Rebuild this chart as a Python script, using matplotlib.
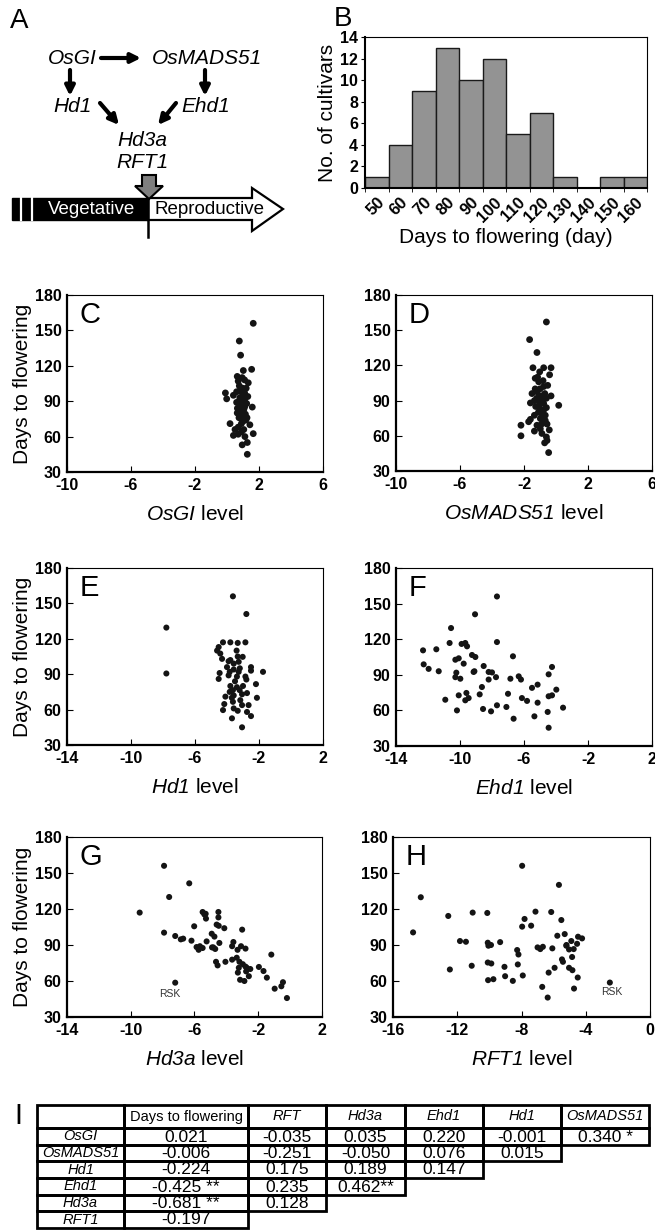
import numpy as np
import matplotlib
matplotlib.use("Agg")
import matplotlib.pyplot as plt
from matplotlib.patches import Polygon, Rectangle

plt.rcParams['font.family'] = 'Liberation Sans'
plt.rcParams['axes.unicode_minus'] = False
plt.rcParams['mathtext.fontset'] = 'custom'
plt.rcParams['mathtext.it'] = 'Liberation Sans:italic'
plt.rcParams['mathtext.rm'] = 'Liberation Sans:italic'  # digitos do nome do gene em italico tambem

# ---- dados ----
# B: histograma dos dias ate florescer
dias_bins = [50, 60, 70, 80, 90, 100, 110, 120, 130, 140, 150, 160]
n_cultivares = [1, 4, 9, 13, 10, 12, 5, 7, 1, 0, 1, 1]

# C: OsGI
osgi_x = [1.64, 0.77, 0.85, 1.54, 1.02, 0.64, 1.33, 0.77, 0.98, -0.1, -0.02, 0.4, 1.12, 0.6,
          0.81, 1.23, 1.58, 1.1, 0.64, 1.0, 1.18, 0.9, 0.19, 1.43, 0.7, 0.5, 1.64, 0.7, 0.4,
          1.12, 1.27, 0.95, 1.27, 0.9, 1.0, 0.8, 1.1, 0.95, 0.85, 1.05, 0.9, 1.15, 0.75, 1.0,
          0.85, 1.2, 0.7, 0.95, 1.1, 0.6, 1.3, 1.0, 0.8, 1.25, 0.65, 1.05, 0.9, 1.1, 0.75]
osgi_y = [156, 141, 129, 117, 116, 111, 105.6, 103, 101, 97, 92, 95, 92, 89,
          88, 88, 85, 85, 80, 78, 74, 71, 71, 70, 68, 66, 62.5, 62, 61,
          60, 55, 53, 45, 98, 95, 93, 97, 90, 86, 83, 80, 79, 76, 73,
          100, 101, 107, 110, 108, 98, 94, 87, 82, 76, 84, 66, 64, 92, 90]

# D: OsMADS51
mads_x = [-0.6, -1.65, -1.19, -1.44, -0.77, -0.31, -1.02, -0.4, -1.3, -0.81, -1.08, -0.52, -0.77,
          -1.5, -1.19, -0.31, -0.94, -0.6, -1.35, -1.6, -1.02, -0.77, 0.17, -1.27, -0.77, -0.67,
          -1.35, -0.98, -1.6, -0.67, -1.71, -1.19, -0.56, -2.19, -0.98, -0.42, -1.35, -0.88, -2.19,
          -0.6, -0.56, -0.71, -0.46, -1.0, -0.9, -1.1, -0.85, -1.2, -0.7, -1.05, -0.9, -1.3, -0.6,
          -1.15, -0.95]
mads_y = [157, 142, 131, 118, 118, 118, 114.5, 112, 109, 107, 106, 103, 102,
          96, 97.5, 94, 94, 92, 90, 88, 88, 87.5, 86, 85, 82, 77.5,
          77.5, 74.7, 74, 73, 72, 69, 70, 69, 66, 65, 64, 62, 60,
          59, 56, 54, 45.7, 100, 91, 80, 78, 92, 96, 84, 70, 100, 84,
          110, 88]

# E: Hd1
hd1_x = [-3.63, -2.79, -7.79, -7.79, -4.25, -3.79, -3.33, -2.85, -4.52, -4.62, -4.42, -3.33, -3.02,
         -4.31, -3.79, -3.58, -3.27, -4.0, -2.5, -3.58, -2.5, -4.46, -3.83, -3.27, -1.75, -3.9,
         -3.38, -2.85, -4.52, -2.79, -2.19, -3.79, -3.38, -3.63, -3.21, -3.83, -2.75, -3.06, -3.58,
         -4.1, -2.13, -3.17, -3.63, -4.17, -2.65, -3.06, -3.58, -4.25, -3.33, -2.75, -2.5, -3.69,
         -3.06, -3.5, -3.2, -3.7, -3.4, -3.0, -3.9]
hd1_y = [156, 141, 129.5, 90.6, 117, 117, 116.5, 117, 113, 110, 107.5, 105, 104.7,
         103, 102, 99, 100.5, 96, 96, 94, 93, 91, 92, 92, 92, 89,
         88, 88, 86, 85.5, 81.6, 80, 79, 76.5, 76.5, 75, 74, 73, 72,
         71, 70, 68, 66.6, 64.7, 63.8, 63.8, 61, 59.6, 59, 58, 54.5, 52.6,
         45, 84, 95, 70, 110, 80, 101]

# F: Ehd1
ehd1_x = [-7.69, -9.06, -10.56, -12.31, -11.48, -10.65, -9.67, -9.56, -7.69, -12.27, -11.96, -11.33,
          -10.29, -10.08, -9.77, -9.25, -9.04, -8.52, -9.15, -8.21, -10.23, -10.29, -9.98, -9.1,
          -7.75, -8.21, -6.69, -6.33, -6.19, -6.85, -4.25, -4.46, -5.15, -5.5, -3.98, -8.63, -9.6,
          -8.77, -10.08, -9.67, -9.46, -10.92, -7.0, -6.13, -5.81, -5.15, -4.46, -4.25, -7.1, -7.69,
          -8.56, -8.06, -10.19, -3.56, -4.52, -5.35, -6.65, -4.46, -9.9, -8.0]
ehd1_y = [156, 141, 129.4, 110.6, 111.5, 116.8, 116.8, 114, 117.6, 98.8, 95, 93,
          102.7, 103.9, 99.4, 106.7, 105, 97.4, 92.4, 92.4, 91.8, 88, 86.7, 93,
          88, 86, 105.6, 88.7, 86, 86.7, 96.6, 90.4, 81.7, 79, 77.5, 79.7, 74.7,
          73.5, 72.7, 68.5, 70.4, 69, 74, 70.4, 68, 66.5, 71.9, 72.7, 62.9, 64.3,
          61.2, 59.2, 60, 62.3, 58.7, 55, 53, 45.4, 116, 92]

# G: Hd3a (ultimo ponto = RSK)
hd3a_x = [-7.91, -6.33, -7.59, -9.44, -7.91, -7.21, -6.86, -6.71, -6.02, -6.19, -5.87, -5.74, -5.49,
          -5.66, -5.24, -5.49, -5.38, -5.28, -4.5, -4.5, -4.61, -4.48, -4.13, -4.92, -4.75, -4.44,
          -4.82, -4.7, -3.56, -3.64, -3.01, -3.08, -2.8, -4.06, -4.65, -4.55, -3.64, -3.35, -3.18,
          -2.97, -2.72, -3.22, -2.76, -3.28, -2.59, -3.14, -2.87, -1.96, -1.67, -1.46, -1.18, -0.45,
          -0.55, -0.97, -0.2, -4.9, -2.8, -3.3, -5.3, -2.5, -7.21]
hd3a_y = [156, 141.4, 130, 117, 100.3, 97.5, 94.7, 95.3, 105.6, 93.6, 88.3, 86, 87.5,
          89, 93, 117.5, 115.5, 112, 117.5, 113, 107, 106, 104, 99.4, 97, 91.7,
          88, 86.7, 92.5, 89, 102.8, 89, 87, 76, 76, 73, 77.8, 79.4, 76,
          74, 71, 71, 68, 67, 64, 61, 60, 71.7, 68.3, 62.8, 82, 59,
          55.6, 53.6, 45.8, 88, 72, 86, 116, 70, 58.6]

# H: RFT1 (ultimo ponto = RSK)
rft1_x = [-14.75, -14.27, -12.56, -12.46, -11.83, -11.46, -11.04, -11.1, -10.13, -10.1, -10.06, -10.1,
          -9.88, -10.08, -9.75, -9.33, -9.06, -9.02, -8.54, -8.27, -8.19, -8.23, -7.92, -7.96, -7.96,
          -7.81, -7.4, -7.13, -6.15, -5.67, -5.52, -5.77, -5.31, -6.83, -6.67, -6.08, -5.21, -5.04,
          -4.9, -4.48, -4.23, -4.54, -4.75, -5.48, -5.42, -5.04, -4.83, -5.94, -6.31, -4.5, -6.71,
          -4.73, -6.37, -9.9, -4.85, -5.2, -7.0, -2.5]
rft1_y = [100.5, 129.8, 114.2, 69.6, 93.3, 92.7, 117, 72.7, 116.7, 91.9, 89.4, 75.4,
          74.6, 60.7, 61.5, 92.4, 71.8, 64, 60.1, 85.8, 82.1, 73.8, 64.6, 156, 105.3,
          111.7, 106.1, 117.8, 117.5, 140.1, 110.8, 97.7, 99.1, 86.6, 88.5, 87.2, 89.4, 86.3,
          93.3, 96.9, 95.5, 91, 86.6, 78, 76, 71, 69, 71, 67, 62.9, 55.1,
          53.7, 46.2, 90, 80, 90, 88, 58.7]

# I: tabela de correlacao
col_labels = ['Days to flowering', 'RFT', 'Hd3a', 'Ehd1', 'Hd1', 'OsMADS51']
row_labels = ['OsGI', 'OsMADS51', 'Hd1', 'Ehd1', 'Hd3a', 'RFT1']
corr = [[0.021, -0.035, 0.035, 0.220, -0.001, 0.340],
        [-0.006, -0.251, -0.050, 0.076, 0.015],
        [-0.224, 0.175, 0.189, 0.147],
        [-0.425, 0.235, 0.462],
        [-0.681, 0.128],
        [-0.197]]
signif = [['', '', '', '', '', ' *'],
          ['', '', '', '', ''],
          ['', '', '', ''],
          [' **', '', '**'],
          [' **', ''],
          ['']]

# ---- figura ----
W, H = 655, 1231
fig = plt.figure(figsize=(W / 100, H / 100), dpi=100)


def eixo_px(l, t, r, b):
    return fig.add_axes([l / W, 1 - b / H, (r - l) / W, (b - t) / H])


# camada de fundo em pixels (painel A, letras, tabela)
bg = fig.add_axes([0, 0, 1, 1])
bg.set_xlim(0, W)
bg.set_ylim(H, 0)
bg.axis('off')

# ---- Painel A: esquema ----
bg.text(10, 8, 'A', fontsize=20, va='top')
bg.text(334, 6, 'B', fontsize=20, va='top')
gene_kw = dict(fontsize=15, style='italic', ha='center', va='center')
bg.text(72, 58, 'OsGI', **gene_kw)
bg.text(207, 58, 'OsMADS51', **gene_kw)
bg.text(73, 107, 'Hd1', **gene_kw)
bg.text(206, 107, 'Ehd1', **gene_kw)
bg.text(142, 140, 'Hd3a', **gene_kw)
bg.text(142, 162, 'RFT1', **gene_kw)

setas = [((101, 58), (141, 58)), ((70, 70), (70, 96)), ((205, 70), (205, 96)),
         ((100, 103), (119, 125)), ((176, 103), (158, 125))]
for ini, fim in setas:
    bg.annotate('', xy=fim, xytext=ini,
                arrowprops=dict(arrowstyle='-|>', lw=3, color='black',
                                mutation_scale=14, shrinkA=0, shrinkB=0))

# seta cinza
bg.add_patch(Polygon([(142, 175), (156, 175), (156, 186), (163, 186), (149, 199),
                      (135, 186), (142, 186)], closed=True, facecolor='#7f7f7f',
                     edgecolor='black', lw=1.5, zorder=3))
# barra vegetativo
bg.add_patch(Rectangle((12, 198), 136, 22, facecolor='black', edgecolor='black', lw=1))
bg.plot([21, 21], [198, 220], color='white', lw=1.6)
bg.plot([32, 32], [198, 220], color='white', lw=1.6)
bg.add_patch(Polygon([(148, 198), (252, 198), (252, 188), (283, 209), (252, 231),
                      (252, 220), (148, 220)], closed=True, facecolor='white',
                     edgecolor='black', lw=1.6))
bg.plot([148, 148], [196, 237], color='black', lw=1.8)
bg.text(92, 210, 'Vegetative', color='white', fontsize=13.5, ha='center', va='center')
bg.text(209, 210, 'Reproductive', color='black', fontsize=13.5, ha='center', va='center')

# ---- Painel B: histograma ----
axB = eixo_px(365, 37, 647, 188)
pos = np.arange(len(n_cultivares))
axB.bar(pos, n_cultivares, width=1, color='#939393', edgecolor='#1a1a1a', lw=1)
axB.set_xlim(-0.5, len(n_cultivares) - 0.5)
axB.set_ylim(0, 14)
axB.set_yticks(range(0, 15, 2))
axB.set_yticklabels([str(v) for v in range(0, 15, 2)], fontweight='bold', fontsize=11.5)
axB.set_xticks(pos)
axB.set_xticklabels([str(d) for d in dias_bins], rotation=45, ha='right',
                    rotation_mode='anchor', fontweight='bold', fontsize=12)
axB.set_xticks(np.arange(len(n_cultivares) + 1) - 0.5, minor=True)
axB.tick_params(axis='x', which='major', length=0, pad=5)
axB.tick_params(axis='x', which='minor', length=3, direction='out')
axB.tick_params(axis='y', length=3, direction='out', pad=2)
axB.set_ylabel('No. of cultivars', fontsize=15, labelpad=2)
axB.set_xlabel('Days to flowering (day)', fontsize=15, labelpad=2)
for lado in ['left', 'bottom']:
    axB.spines[lado].set_linewidth(1.5)
for lado in ['top', 'right']:
    axB.spines[lado].set_linewidth(0.8)


# ---- Paineis C-H: dispersao ----
def painel(caixa, xs, ys, letra, gene, xlim, xticks, ylabel, s, rsk=None):
    ax = eixo_px(*caixa)
    ax.scatter(xs, ys, s=s, color='#141414', edgecolors='none', zorder=3)
    ax.set_xlim(*xlim)
    ax.set_ylim(30, 180)
    ax.set_xticks(xticks)
    ax.set_xticklabels([str(t) for t in xticks], fontweight='bold', fontsize=11.5)
    ax.set_yticks(range(30, 181, 30))
    ax.set_yticklabels([str(t) for t in range(30, 181, 30)], fontweight='bold', fontsize=11.5)
    ax.tick_params(direction='in', length=4, pad=4)
    ax.set_xlabel('$' + gene + '$ level', fontsize=15, labelpad=9)
    if ylabel:
        ax.set_ylabel('Days to flowering', fontsize=15, labelpad=2)
    ax.text(0.05, 0.965, letra, transform=ax.transAxes, fontsize=21, va='top', ha='left')
    if rsk is not None:
        ax.text(rsk[0], rsk[1], 'RSK', fontsize=7.5, ha='center', va='center', color='#333333')
    for lado in ['left', 'bottom']:
        ax.spines[lado].set_linewidth(1.6)
    for lado in ['top', 'right']:
        ax.spines[lado].set_linewidth(0.8)
    return ax


painel((67, 295, 323, 472), osgi_x, osgi_y, 'C', 'OsGI', (-10, 6), [-10, -6, -2, 2, 6], True, 24)
painel((396, 295, 652, 471), mads_x, mads_y, 'D', 'OsMADS51', (-10, 6), [-10, -6, -2, 2, 6], False, 24)
painel((67, 568, 323, 745), hd1_x, hd1_y, 'E', 'Hd1', (-14, 2), [-14, -10, -6, -2, 2], True, 19)
painel((396, 568, 652, 746), ehd1_x, ehd1_y, 'F', 'Ehd1', (-14, 2), [-14, -10, -6, -2, 2], False, 19)
painel((67, 837, 322, 1017), hd3a_x, hd3a_y, 'G', 'Hd3a', (-14, 2), [-14, -10, -6, -2, 2], True, 19,
       rsk=(-7.55, 49.4))
painel((393, 837, 650, 1017), rft1_x, rft1_y, 'H', 'RFT1', (-16, 0), [-16, -12, -8, -4, 0], False, 19,
       rsk=(-2.4, 50.9))

# ---- Painel I: tabela ----
bg.text(14, 1102, 'I', fontsize=21, va='top')
col_x = [37, 124, 248, 326, 405, 483, 561, 649]
row_y = [1105, 1128, 1145, 1161, 1178, 1195, 1211, 1228]
lw_t = 2.0
# cabecalho
for j in range(len(col_x) - 1):
    bg.add_patch(Rectangle((col_x[j], row_y[0]), col_x[j + 1] - col_x[j], row_y[1] - row_y[0],
                           fill=False, edgecolor='black', lw=lw_t))
for j, nome in enumerate(col_labels):
    cx = (col_x[j + 1] + col_x[j + 2]) / 2
    bg.text(cx, (row_y[0] + row_y[1]) / 2, nome, fontsize=10.5, ha='center', va='center',
            style='normal' if j == 0 else 'italic')
# linhas
for i, nome in enumerate(row_labels):
    y0, y1 = row_y[i + 1], row_y[i + 2]
    n = len(corr[i])
    for j in range(n + 1):
        bg.add_patch(Rectangle((col_x[j], y0), col_x[j + 1] - col_x[j], y1 - y0,
                               fill=False, edgecolor='black', lw=lw_t))
    bg.text((col_x[0] + col_x[1]) / 2, (y0 + y1) / 2, nome, fontsize=10.5, style='italic',
            ha='center', va='center')
    for j in range(n):
        txt = f'{corr[i][j]:.3f}' + signif[i][j]
        bg.text((col_x[j + 1] + col_x[j + 2]) / 2, (y0 + y1) / 2 + 0.5, txt, fontsize=12.5,
                ha='center', va='center')

fig.savefig('out.png', dpi=100)
